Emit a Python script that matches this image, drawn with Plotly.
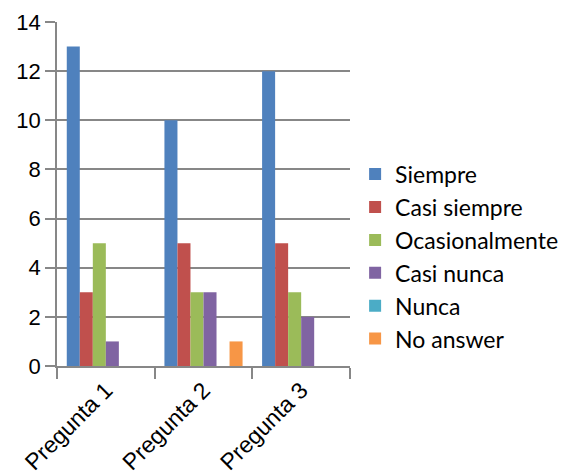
import plotly.graph_objects as go

categories = ["Pregunta 1", "Pregunta 2", "Pregunta 3"]
series_names = ["Siempre", "Casi siempre", "Ocasionalmente", "Casi nunca", "Nunca", "No answer"]
siempre = [13, 10, 12]
casi_siempre = [3, 5, 5]
ocasionalmente = [5, 3, 3]
casi_nunca = [1, 3, 2]
nunca = [0, 0, 0]
no_answer = [0, 1, 0]
values = [siempre, casi_siempre, ocasionalmente, casi_nunca, nunca, no_answer]
colors = ["#4F81BD", "#C0504D", "#9BBB59", "#8064A2", "#4BACC6", "#F79646"]

fig = go.Figure()
for name, vals, col in zip(series_names, values, colors):
    fig.add_trace(go.Bar(x=categories, y=vals, name=name, marker_color=col,
                         marker_line_width=0, legendgroup=name))

grid = "#878787"
fig.update_layout(
    width=561, height=474,
    margin=dict(l=57, r=211, t=22, b=108, autoexpand=False),
    paper_bgcolor="white", plot_bgcolor="white",
    barmode="group", bargap=0.2, bargroupgap=0,
    showlegend=True,
    legend=dict(xref="container", yref="container", x=0.633, xanchor="left",
                y=0.678, yanchor="top",
                font=dict(family="Lato", size=23, color="#000000"),
                traceorder="grouped", tracegroupgap=0,
                bgcolor="rgba(0,0,0,0)", itemwidth=30),
    font=dict(family="Liberation Sans", size=22, color="#000000"),
)
fig.update_yaxes(range=[0, 14], dtick=2, showgrid=True, gridcolor=grid, gridwidth=1.5,
                 showline=True, linecolor=grid, linewidth=1.5, automargin=False,
                 ticks="outside", ticklen=10, tickcolor=grid, tickwidth=1.5,
                 zeroline=False, tickfont=dict(family="Liberation Sans", size=22))
fig.update_xaxes(range=[-0.5, 2.5], showline=True, linecolor=grid, linewidth=1.5, automargin=False,
                 ticks="outside", tickson="boundaries", ticklen=11, tickcolor=grid, tickwidth=1.5,
                 tickangle=-45, tickfont=dict(family="Liberation Sans", size=23),
                 showgrid=False)

fig.write_html("out.html")
